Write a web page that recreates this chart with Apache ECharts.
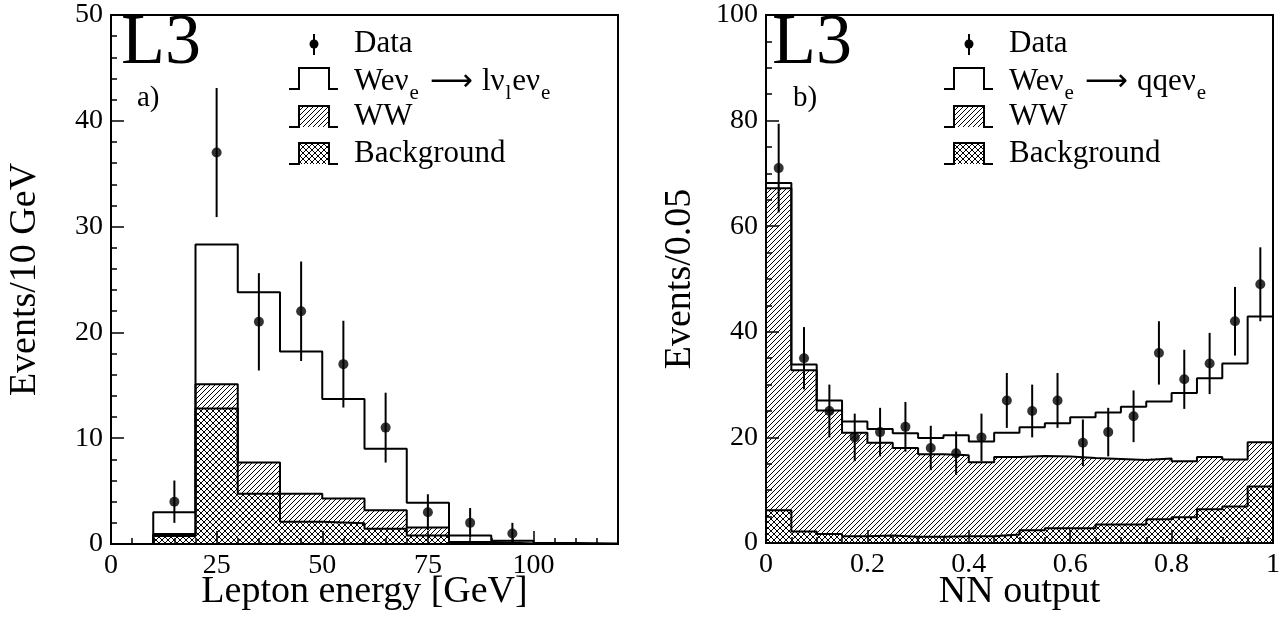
<!DOCTYPE html>
<html>
<head>
<meta charset="utf-8">
<script src="https://cdn.jsdelivr.net/npm/echarts@6/dist/echarts.min.js"></script>
<style>html,body{margin:0;padding:0;background:#fff;}#c{width:1288px;height:619px;}</style>
</head>
<body>
<div id="c"></div>
<script>
// ---------- data: panel a) lepton energy ----------
const lepEdges   = [10, 20, 30, 40, 50, 60, 70, 80, 90, 100, 110, 120];
const lepSignal  = [3.0, 28.3, 23.8, 18.2, 13.7, 9.0, 3.9, 0.8, 0.3, 0.1, 0.05];
const lepWW      = [0.95, 15.1, 7.7, 4.75, 4.3, 3.2, 1.55, 0.2, 0.05, 0, 0];
const lepBkg     = [0.75, 12.8, 4.75, 2.1, 1.95, 1.45, 0.8, 0.1, 0, 0, 0];
const lepDataX   = [15, 25, 35, 45, 55, 65, 75, 85, 95];
const lepDataY   = [4, 37, 21, 22, 17, 11, 3, 2, 1];
const lepDataErr = [2.0, 6.1, 4.6, 4.7, 4.1, 3.3, 1.7, 1.4, 1.0];
const lepXTicks  = ['0', '25', '50', '75', '100'];

// ---------- data: panel b) NN output ----------
const nnEdges   = [0, 0.05, 0.1, 0.15, 0.2, 0.25, 0.3, 0.35, 0.4, 0.45, 0.5,
                   0.55, 0.6, 0.65, 0.7, 0.75, 0.8, 0.85, 0.9, 0.95, 1.0];
const nnSignal  = [68.2, 33.8, 27.0, 23.0, 21.6, 20.8, 19.9, 20.4, 19.2, 20.9,
                   21.9, 22.7, 23.8, 24.7, 25.8, 26.8, 28.4, 31.2, 34.0, 42.9];
const nnWW      = [67.2, 32.7, 25.1, 20.9, 19.0, 18.0, 16.8, 16.6, 15.3, 16.3,
                   16.5, 16.4, 16.1, 15.9, 15.7, 16.0, 15.5, 16.3, 15.8, 19.1];
const nnBkg     = [6.2, 2.2, 1.7, 1.3, 1.4, 1.2, 1.2, 1.3, 1.3, 1.6,
                   2.4, 2.8, 2.8, 3.5, 3.5, 4.5, 4.9, 6.4, 6.9, 10.7];
const nnDataX   = [0.025, 0.075, 0.125, 0.175, 0.225, 0.275, 0.325, 0.375, 0.425, 0.475,
                   0.525, 0.575, 0.625, 0.675, 0.725, 0.775, 0.825, 0.875, 0.925, 0.975];
const nnDataY   = [71, 35, 25, 20, 21, 22, 18, 17, 20, 27, 25, 27, 19, 21, 24, 36, 31, 34, 42, 49];
const nnDataErr = [8.4, 5.9, 5.0, 4.5, 4.6, 4.7, 4.2, 4.1, 4.5, 5.2,
                   5.0, 5.2, 4.4, 4.6, 4.9, 6.0, 5.6, 5.8, 6.5, 7.0];

// ---------- text ----------
const FONT = 'Liberation Serif';
const labelsA = {y: 'Events/10 GeV', x: 'Lepton energy [GeV]', tag: 'a)'};
const labelsB = {y: 'Events/0.05', x: 'NN output', tag: 'b)'};

// ---------- hatch patterns ----------
function makePattern(size, cross) {
  const c = document.createElement('canvas');
  c.width = size; c.height = size;
  const ctx = c.getContext('2d');
  ctx.strokeStyle = '#000';
  ctx.lineWidth = 1;
  ctx.beginPath();
  ctx.moveTo(-1, size + 1); ctx.lineTo(size + 1, -1);
  ctx.moveTo(-1, 1); ctx.lineTo(1, -1);
  ctx.moveTo(size - 1, size + 1); ctx.lineTo(size + 1, size - 1);
  if (cross) {
    ctx.moveTo(-1, -1); ctx.lineTo(size + 1, size + 1);
    ctx.moveTo(size - 1, -1); ctx.lineTo(size + 1, 1);
    ctx.moveTo(-1, size - 1); ctx.lineTo(1, size + 1);
  }
  ctx.stroke();
  return {image: c, repeat: 'repeat'};
}
const hatchWW = makePattern(5, false);
const hatchBkg = makePattern(6, true);

// ---------- series builders ----------
function fillSeries(xi, yi, edges, lo, hi, pattern) {
  const data = [];
  for (let i = 0; i < hi.length; i++) {
    if (hi[i] > lo[i]) data.push([edges[i], edges[i + 1], lo[i], hi[i]]);
  }
  return {
    type: 'custom', xAxisIndex: xi, yAxisIndex: yi, data: data,
    encode: {x: [0, 1], y: [2, 3]}, silent: true, animation: false, clip: true, z: 1,
    renderItem: function (params, api) {
      const a = api.coord([api.value(0), api.value(3)]);
      const b = api.coord([api.value(1), api.value(2)]);
      return {type: 'rect', shape: {x: a[0], y: a[1], width: b[0] - a[0], height: b[1] - a[1]},
              style: {fill: pattern, stroke: null}};
    }
  };
}
function stepSeries(xi, yi, edges, vals) {
  const data = [[edges[0], 0]];
  for (let i = 0; i < vals.length; i++) data.push([edges[i], vals[i]]);
  data.push([edges[vals.length], vals[vals.length - 1]]);
  data.push([edges[vals.length], 0]);
  return {
    type: 'line', xAxisIndex: xi, yAxisIndex: yi, data: data, step: 'end',
    symbol: 'none', showSymbol: false, silent: true, animation: false, z: 3,
    lineStyle: {color: '#000', width: 2}
  };
}
function errSeries(xi, yi, xs, ys, es) {
  return {
    type: 'custom', xAxisIndex: xi, yAxisIndex: yi,
    data: xs.map((x, i) => [x, ys[i] - es[i], ys[i] + es[i]]),
    encode: {x: 0, y: [1, 2]}, silent: true, animation: false, z: 4,
    renderItem: function (params, api) {
      const a = api.coord([api.value(0), api.value(1)]);
      const b = api.coord([api.value(0), api.value(2)]);
      return {type: 'line', shape: {x1: a[0], y1: a[1], x2: b[0], y2: b[1]},
              style: {stroke: '#000', lineWidth: 2}};
    }
  };
}
function dotSeries(xi, yi, xs, ys) {
  return {
    type: 'scatter', xAxisIndex: xi, yAxisIndex: yi,
    data: xs.map((x, i) => [x, ys[i]]), symbol: 'circle', symbolSize: 10,
    itemStyle: {color: '#000'}, silent: true, animation: false, z: 5
  };
}
const zerosA = lepBkg.map(() => 0);
const zerosB = nnBkg.map(() => 0);

// ---------- layout ----------
const GA = {left: 111, top: 15, width: 507, height: 529};
const GB = {left: 766, top: 15, width: 507, height: 528};

const tickLabel = {color: '#000', fontFamily: FONT, fontSize: 28, margin: 8};
function baseAxis(extra) {
  return Object.assign({
    axisLine: {show: true, lineStyle: {color: '#000', width: 2}},
    axisTick: {show: true, inside: true, length: 13, lineStyle: {color: '#000', width: 1.5}},
    splitLine: {show: false},
    axisLabel: tickLabel
  }, extra);
}

// ---------- legend graphics ----------
function legend(x0, sigRich) {
  const dotX = x0 + 25, boxL = x0 + 10, boxR = x0 + 40, end = x0 + 49, tx = x0 + 65;
  const rich = {
    m: {fontFamily: FONT, fontSize: 31, fill: '#000', color: '#000'},
    a: {fontFamily: 'DejaVu Sans', fontSize: 30, fill: '#000', color: '#000', padding: [0, 9, 0, 10]},
    s: {fontFamily: FONT, fontSize: 21, fill: '#000', color: '#000', padding: [22, 1, 0, 1]}
  };
  const txt = (y, text) => ({
    type: 'text', x: tx, y: y,
    style: {text: text, fontFamily: FONT, fontSize: 31, fill: '#000',
            align: 'left', verticalAlign: 'middle', textAlign: 'left', textVerticalAlign: 'middle', rich: rich}
  });
  return [
    {type: 'circle', shape: {cx: dotX, cy: 44, r: 4.5}, style: {fill: '#000'}},
    {type: 'line', shape: {x1: dotX, y1: 34, x2: dotX, y2: 55}, style: {stroke: '#000', lineWidth: 2}},
    txt(44, 'Data'),
    {type: 'polyline', shape: {points: [[x0, 89], [boxL, 89], [boxL, 68], [boxR, 68], [boxR, 89], [end, 89]]},
     style: {stroke: '#000', lineWidth: 2, fill: null}},
    txt(82, sigRich),
    {type: 'rect', shape: {x: boxL, y: 106, width: boxR - boxL, height: 21}, style: {fill: hatchWW}},
    {type: 'polyline', shape: {points: [[x0, 127], [boxL, 127], [boxL, 106], [boxR, 106], [boxR, 127], [end, 127]]},
     style: {stroke: '#000', lineWidth: 2, fill: null}},
    txt(117, 'WW'),
    {type: 'rect', shape: {x: boxL, y: 143, width: boxR - boxL, height: 21}, style: {fill: hatchBkg}},
    {type: 'polyline', shape: {points: [[x0, 164], [boxL, 164], [boxL, 143], [boxR, 143], [boxR, 164], [end, 164]]},
     style: {stroke: '#000', lineWidth: 2, fill: null}},
    txt(154, 'Background')
  ];
}
function panelText(g, lab, l3x, tagx) {
  return [
    {type: 'text', x: l3x, y: 44, style: {text: 'L3', fontFamily: FONT, fontSize: 72, fill: '#000',
      align: 'left', verticalAlign: 'middle', textAlign: 'left', textVerticalAlign: 'middle'}},
    {type: 'text', x: tagx, y: 98, style: {text: lab.tag, fontFamily: FONT, fontSize: 29, fill: '#000',
      align: 'left', verticalAlign: 'middle', textAlign: 'left', textVerticalAlign: 'middle'}},
    {type: 'text', x: g.left + g.width / 2, y: 592, style: {text: lab.x, fontFamily: FONT, fontSize: 38, fill: '#000',
      align: 'center', verticalAlign: 'middle', textAlign: 'center', textVerticalAlign: 'middle'}},
    {type: 'text', x: g.left - 86, y: g.top + g.height / 2, rotation: Math.PI / 2,
      style: {text: lab.y, fontFamily: FONT, fontSize: 38, fill: '#000',
      align: 'center', verticalAlign: 'middle', textAlign: 'center', textVerticalAlign: 'middle'}}
  ];
}

const chart = echarts.init(document.getElementById('c'), null, {renderer: 'canvas'});
chart.setOption({
  backgroundColor: '#fff',
  animation: false,
  grid: [
    Object.assign({show: true, borderColor: '#000', borderWidth: 2, backgroundColor: 'transparent'}, GA),
    Object.assign({show: true, borderColor: '#000', borderWidth: 2, backgroundColor: 'transparent'}, GB)
  ],
  xAxis: [
    baseAxis({type: 'value', gridIndex: 0, position: 'bottom', min: 0, max: 120, interval: 25,
      axisLabel: Object.assign({}, tickLabel, {showMaxLabel: false,
        formatter: v => (lepXTicks.indexOf(String(v)) >= 0 ? String(v) : '')})}),
    baseAxis({type: 'value', gridIndex: 0, position: 'bottom', min: 0, max: 120, interval: 5,
      axisLine: {show: false}, axisLabel: {show: false},
      axisTick: {show: true, inside: true, length: 6, lineStyle: {color: '#000', width: 1.5}}}),
    baseAxis({type: 'value', gridIndex: 1, position: 'bottom', min: 0, max: 1, interval: 0.2,
      minorTick: {show: true, splitNumber: 4, length: 6, lineStyle: {color: '#000', width: 1.5}},
      axisLabel: Object.assign({}, tickLabel, {formatter: v => (v === 0 ? '0' : v === 1 ? '1' : String(v))})})
  ],
  yAxis: [
    baseAxis({type: 'value', gridIndex: 0, position: 'left', min: 0, max: 50, interval: 10,
      minorTick: {show: true, splitNumber: 5, length: 6, lineStyle: {color: '#000', width: 1.5}}}),
    baseAxis({type: 'value', gridIndex: 1, position: 'left', min: 0, max: 100, interval: 20,
      minorTick: {show: true, splitNumber: 4, length: 6, lineStyle: {color: '#000', width: 1.5}}})
  ],
  graphic: [].concat(
    panelText(GA, labelsA, 121, 137),
    panelText(GB, labelsB, 772, 793),
    legend(289, '{m|Weν}{s|e}{a|⟶}{m|lν}{s|l}{m|eν}{s|e}'),
    legend(944, '{m|Weν}{s|e}{a|⟶}{m|qqeν}{s|e}')
  ),
  series: [
    fillSeries(0, 0, lepEdges, zerosA, lepBkg, hatchBkg),
    fillSeries(0, 0, lepEdges, lepBkg, lepWW, hatchWW),
    stepSeries(0, 0, lepEdges, lepBkg),
    stepSeries(0, 0, lepEdges, lepWW),
    stepSeries(0, 0, lepEdges, lepSignal),
    errSeries(0, 0, lepDataX, lepDataY, lepDataErr),
    dotSeries(0, 0, lepDataX, lepDataY),

    fillSeries(2, 1, nnEdges, zerosB, nnBkg, hatchBkg),
    fillSeries(2, 1, nnEdges, nnBkg, nnWW, hatchWW),
    stepSeries(2, 1, nnEdges, nnBkg),
    stepSeries(2, 1, nnEdges, nnWW),
    stepSeries(2, 1, nnEdges, nnSignal),
    errSeries(2, 1, nnDataX, nnDataY, nnDataErr),
    dotSeries(2, 1, nnDataX, nnDataY)
  ]
});
</script>
</body>
</html>
